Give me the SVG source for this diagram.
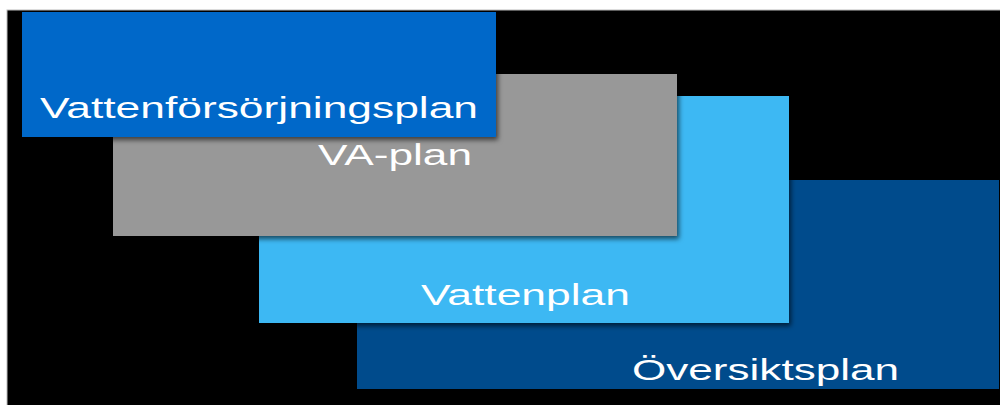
<svg xmlns="http://www.w3.org/2000/svg" width="1000" height="405" viewBox="0 0 1000 405">
  <defs>
    <filter id="sh" x="-5%" y="-5%" width="115%" height="120%">
      <feDropShadow dx="2" dy="3" stdDeviation="2.5" flood-color="#000" flood-opacity="0.6"/>
    </filter>
    <style>
      .lbl { font-family: "Liberation Sans", Arial, sans-serif; font-size: 29px; fill: #FFFFFF; }
      .box { filter: url(#sh); }
    </style>
  </defs>
  <rect x="0" y="0" width="1000" height="405" fill="#FFFFFF"/>
  <rect x="7" y="10" width="1000" height="400" fill="#000000" stroke="#BBBBBB" stroke-width="1"/>

  <g id="oversiktsplan">
    <rect class="box" x="357" y="180" width="642" height="209" fill="#004B8C"/>
    <text class="lbl" x="632" y="380" textLength="267" lengthAdjust="spacingAndGlyphs">Översiktsplan</text>
  </g>
  <g id="vattenplan">
    <rect class="box" x="259" y="96" width="530" height="227" fill="#3DB8F3"/>
    <text class="lbl" x="421" y="305" textLength="209" lengthAdjust="spacingAndGlyphs">Vattenplan</text>
  </g>
  <g id="va-plan">
    <rect class="box" x="113" y="74" width="564" height="162" fill="#989898"/>
    <text class="lbl" x="318" y="165" textLength="154" lengthAdjust="spacingAndGlyphs">VA-plan</text>
  </g>
  <g id="vattenforsorjningsplan">
    <rect class="box" x="22" y="12" width="474" height="125" fill="#0068C9"/>
    <text class="lbl" x="40" y="118" textLength="438" lengthAdjust="spacingAndGlyphs">Vattenförsörjningsplan</text>
  </g>
</svg>
